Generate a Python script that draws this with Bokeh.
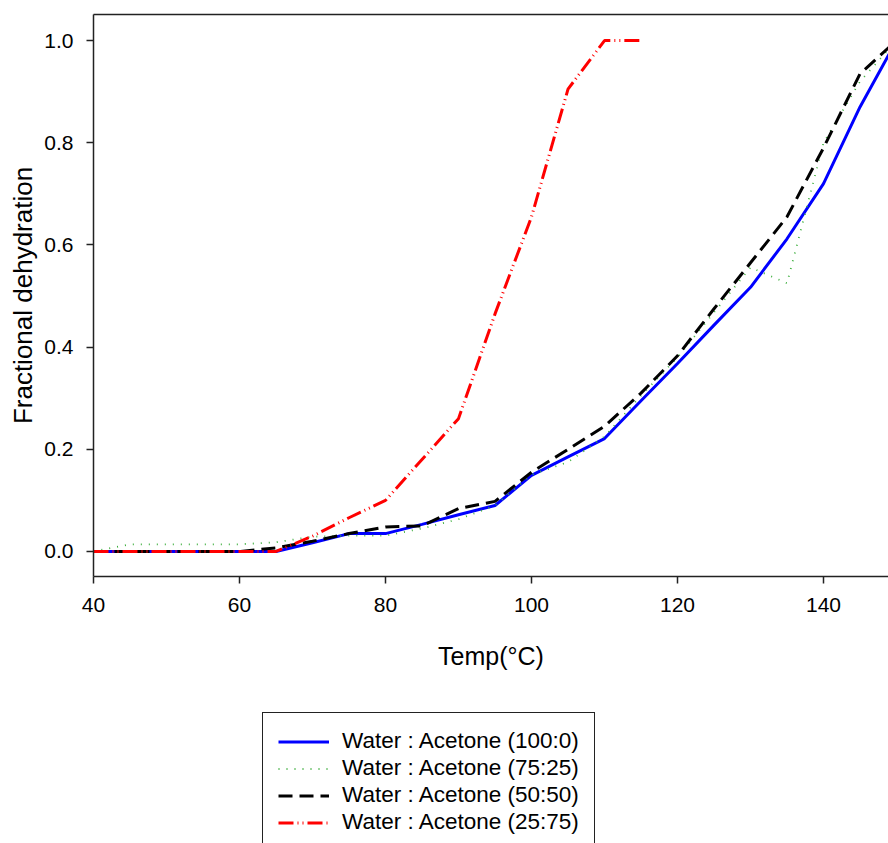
from bokeh.plotting import figure
from bokeh.layouts import column
from bokeh.models import Legend, LegendItem, LinearAxis, FixedTicker, Range1d
from bokeh.embed import file_html
from bokeh.resources import INLINE

temps = [40, 45, 50, 55, 60, 65, 70, 75, 80, 85, 90, 95, 100, 105, 110, 115, 120, 125, 130, 135, 140, 145, 150]
wa_100_0 = [0, 0, 0, 0, 0, 0, 0.017, 0.035, 0.035, 0.053, 0.072, 0.09, 0.149, 0.185, 0.221, 0.295, 0.368, 0.443, 0.517, 0.612, 0.72, 0.87, 1.0]
wa_75_25 = [0, 0.014, 0.014, 0.014, 0.014, 0.018, 0.029, 0.031, 0.031, 0.045, 0.063, 0.09, 0.15, 0.175, 0.225, 0.305, 0.38, 0.468, 0.556, 0.525, 0.80, 0.92, 1.0]
wa_50_50 = [0, 0, 0, 0, 0, 0.007, 0.02, 0.035, 0.048, 0.05, 0.084, 0.098, 0.155, 0.2, 0.245, 0.31, 0.383, 0.475, 0.565, 0.655, 0.79, 0.935, 1.0]
temps_red = [40, 45, 50, 55, 60, 65, 70, 75, 80, 85, 90, 95, 100, 105, 110, 115]
wa_25_75 = [0, 0, 0, 0, 0, 0, 0.03, 0.066, 0.1, 0.18, 0.26, 0.465, 0.655, 0.905, 1.0, 1.0]

labels = ["Water : Acetone (100:0)", "Water : Acetone (75:25)",
          "Water : Acetone (50:50)", "Water : Acetone (25:75)"]
xticks = [40, 60, 80, 100, 120, 140]
yticks = [0.0, 0.2, 0.4, 0.6, 0.8, 1.0]

FONT = "Liberation Sans"
styles = [
    dict(line_color="#0000ff", line_width=3),
    dict(line_color="#3cae3c", line_width=1.8, line_dash="1 7"),
    dict(line_color="black", line_width=3, line_dash="14 7"),
    dict(line_color="#ff0000", line_width=3, line_dash="15 4 1 4 1 4"),
]
series = [(temps, wa_100_0), (temps, wa_75_25), (temps, wa_50_50), (temps_red, wa_25_75)]

p = figure(width=888, height=700, output_backend="svg", toolbar_location=None,
           x_range=Range1d(40, 148.9), y_range=Range1d(-0.049, 1.051),
           min_border_left=93, min_border_right=0, min_border_top=14, min_border_bottom=124)
p.outline_line_color = None
p.xgrid.visible = False
p.ygrid.visible = False
p.background_fill_color = "white"
p.border_fill_color = "white"

for (xs, ys), s in zip(series, styles):
    p.line(xs, ys, **s)

for ax in (p.xaxis[0], p.yaxis[0]):
    ax.axis_line_color = "#222222"
    ax.axis_line_width = 1.5
    ax.major_tick_line_color = "#222222"
    ax.major_tick_line_width = 1.5
    ax.major_tick_in = 0
    ax.major_tick_out = 7
    ax.minor_tick_line_color = None
    ax.major_label_text_font = FONT
    ax.major_label_text_font_size = "21px"
    ax.major_label_text_color = "black"
    ax.axis_label_text_font = FONT
    ax.axis_label_text_font_style = "normal"
    ax.axis_label_text_color = "black"

p.xaxis[0].ticker = FixedTicker(ticks=xticks)
p.yaxis[0].ticker = FixedTicker(ticks=yticks)
p.yaxis[0].major_label_overrides = {v: f"{v:.1f}" for v in yticks}
p.xaxis[0].axis_label = "Temp(°C)"
p.yaxis[0].axis_label = "Fractional dehydration"
p.xaxis[0].axis_label_text_font_size = "25px"
p.yaxis[0].axis_label_text_font_size = "26px"
p.xaxis[0].major_label_standoff = 14
p.yaxis[0].major_label_standoff = 13
p.xaxis[0].axis_label_standoff = 27
p.yaxis[0].axis_label_standoff = 3

top = LinearAxis(ticker=FixedTicker(ticks=[]), major_label_text_font_size="0px",
                 major_tick_line_color=None, minor_tick_line_color=None,
                 axis_line_color="#222222", axis_line_width=1.5,
                 major_tick_out=0, major_label_standoff=0)
p.add_layout(top, "above")

# legend panel below the plot (its lines sit outside the visible ranges)
p2 = figure(width=888, height=143, output_backend="svg", toolbar_location=None,
            x_range=Range1d(0, 1), y_range=Range1d(0, 1),
            min_border_left=0, min_border_right=0, min_border_top=0, min_border_bottom=0)
p2.axis.visible = False
p2.xgrid.visible = False
p2.ygrid.visible = False
p2.outline_line_color = None
p2.border_fill_color = "white"
lr = [p2.line(xs, ys, **s) for (xs, ys), s in zip(series, styles)]

legend = Legend(items=[LegendItem(label=l, renderers=[r]) for l, r in zip(labels, lr)],
                location=(169, -8), orientation="vertical",
                label_text_font=FONT, label_text_font_size="22.5px", label_text_color="black",
                label_height=25, glyph_height=25, glyph_width=51, label_standoff=13,
                spacing=1, padding=15, margin=0,
                border_line_color="#222222", border_line_width=1.5, border_line_alpha=1.0,
                background_fill_alpha=1.0)
p2.add_layout(legend, "center")

open("out.html", "w").write(file_html(column(p, p2, spacing=0), INLINE))
